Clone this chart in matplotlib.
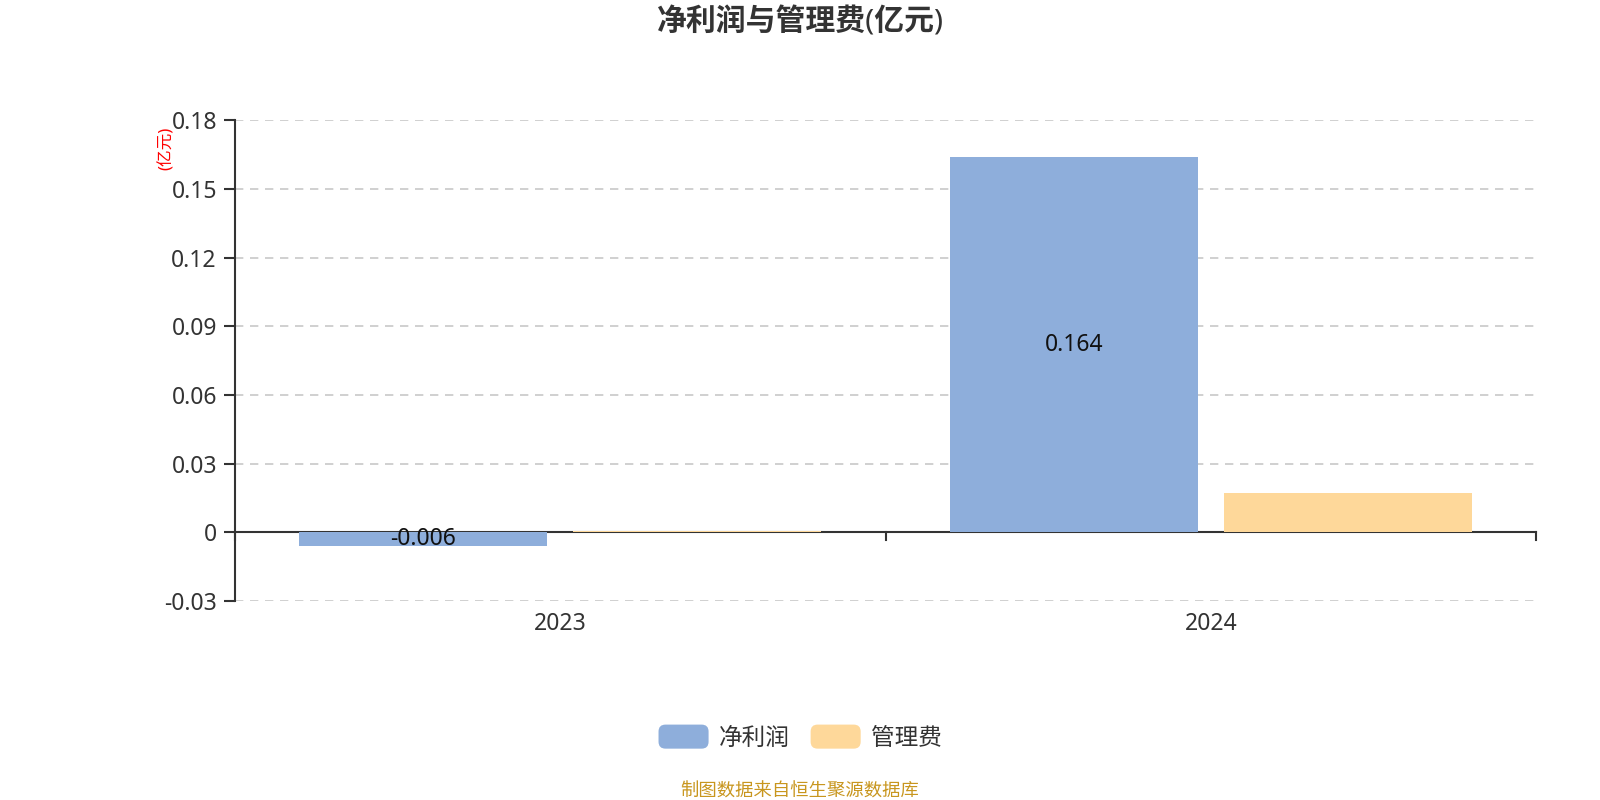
import numpy as np
import matplotlib
matplotlib.use("Agg")
import matplotlib.pyplot as plt
from matplotlib.patches import FancyBboxPatch
from matplotlib.legend_handler import HandlerPatch

plt.rcParams['font.family'] = ['Noto Sans', 'Noto Sans CJK SC', 'DejaVu Sans']

# data
years = ["2023", "2024"]
net_profit = [-0.006, 0.164]
admin_fee = [0.0005, 0.017]
series_names = ["净利润", "管理费"]
yticks = [-0.03, 0, 0.03, 0.06, 0.09, 0.12, 0.15, 0.18]
ytick_labels = ["-0.03", "0", "0.03", "0.06", "0.09", "0.12", "0.15", "0.18"]

blue = "#8eaedb"
orange = "#fed89a"
dark = "#333333"

fig = plt.figure(figsize=(16, 8), dpi=100)
ax = fig.add_axes([0.1469, 0.24875, 0.8131, 0.60065])

# x axis sits at zero (set before ticks, set_position resets them)
ax.spines["bottom"].set_position(("data", 0))
for s in ["top", "right"]:
    ax.spines[s].set_visible(False)

x = np.arange(len(years))
w = 0.381
off = 0.2106
b1 = ax.bar(x - off, net_profit, width=w, color=blue, label=series_names[0], zorder=6)
b2 = ax.bar(x + off, admin_fee, width=w, color=orange, label=series_names[1], zorder=6)

for xi, v in zip(x, net_profit):
    ax.text(xi - off, v / 2, f"{v:g}", ha="center", va="center",
            fontsize=16.5, color="#111111", zorder=7)

ax.set_xlim(-0.5, len(years) - 0.5)
ax.set_ylim(-0.03, 0.18)
ax.set_yticks(yticks)
ax.set_yticklabels(ytick_labels)
ax.set_xticks(x)
ax.set_xticklabels(years)
ax.tick_params(axis="x", length=0, pad=57, labelsize=16.5, labelcolor=dark)
ax.tick_params(axis="y", length=8, width=1.5, color=dark, pad=5,
               labelsize=16.5, labelcolor=dark)

# category boundary ticks on zero axis
for b in [-0.5, 0.5, 1.5]:
    ax.plot([b, b], [0, -0.0035], color=dark, lw=1.5, zorder=5, clip_on=False)

ax.grid(axis="y", linestyle=(0, (5, 4)), color="#c8c8c8", lw=1.2, zorder=0)
ax.spines["bottom"].set_color(dark)
ax.spines["bottom"].set_linewidth(1.5)
ax.spines["bottom"].set_zorder(5)
ax.spines["left"].set_color(dark)
ax.spines["left"].set_linewidth(1.5)

fig.text(0.104, 0.814, "(亿元)", rotation=90, color="red", fontsize=12,
         ha="center", va="center")

fig.text(0.5, 0.972, "净利润与管理费(亿元)", ha="center", va="center",
         fontsize=21.5, fontweight="bold", color=dark)


class RoundHandler(HandlerPatch):
    def create_artists(self, legend, orig_handle, xdescent, ydescent, width,
                       height, fontsize, trans):
        p = FancyBboxPatch((-xdescent, -ydescent), width, height,
                           boxstyle="round,pad=0,rounding_size=5",
                           facecolor=orig_handle.get_facecolor(),
                           edgecolor="none", transform=trans)
        return [p]


leg = fig.legend(handles=[b1.patches[0], b2.patches[0]], labels=series_names,
                 loc="center", bbox_to_anchor=(0.5, 0.078), ncol=2, frameon=False,
                 fontsize=17, handlelength=2.12, handleheight=1.19,
                 columnspacing=0.9, handletextpad=0.42,
                 handler_map={b1.patches[0]: RoundHandler(), b2.patches[0]: RoundHandler()})
for t in leg.get_texts():
    t.set_color(dark)

fig.text(0.5, 0.011, "制图数据来自恒生聚源数据库", ha="center", va="center",
         fontsize=13.2, color="#c8961e")

fig.savefig("out.png", dpi=100)
